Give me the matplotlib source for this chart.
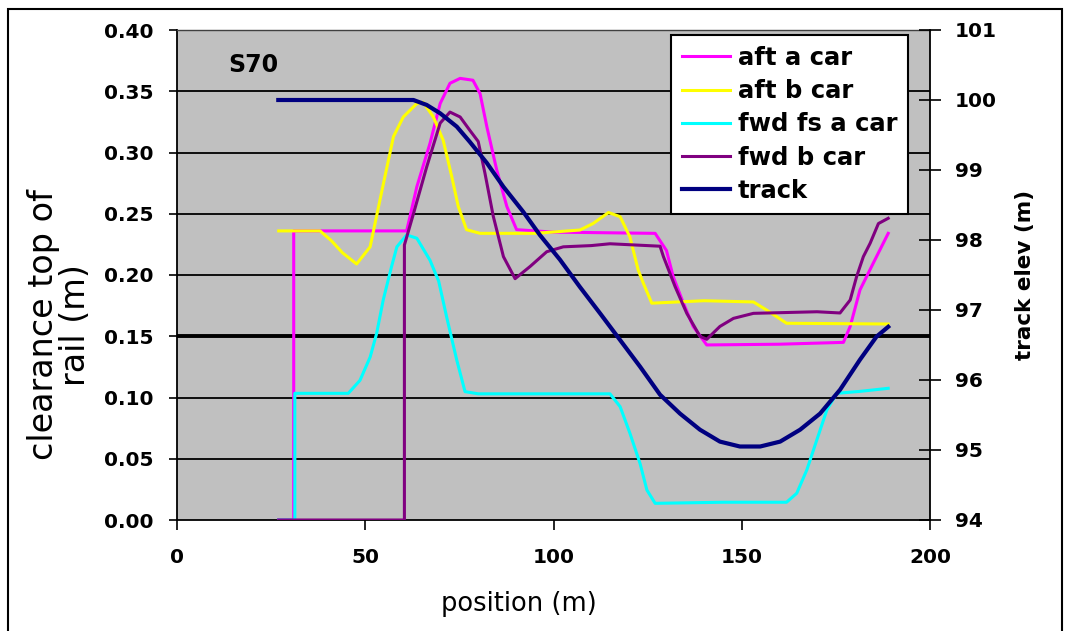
import matplotlib
matplotlib.use("Agg")
import matplotlib.pyplot as plt
from matplotlib.patches import Rectangle

# clearance top of rail (m) against position (m), S70
aft_a_x = [27, 31, 31, 61, 63.7, 67.2, 69.9, 72.5, 75.2, 78.6, 80.5, 82.3, 84.9, 87.6, 90.2, 100,
           127, 130, 131.8, 134.5, 137.1, 140.7, 160, 177, 178.8, 181.4, 184.9, 188.9]
aft_a_y = [0.0, 0.0, 0.236, 0.236, 0.272, 0.3075, 0.340, 0.3565, 0.3605, 0.359, 0.348, 0.321, 0.286,
           0.256, 0.237, 0.235, 0.234, 0.220, 0.1986, 0.177, 0.158, 0.1429, 0.1435, 0.145, 0.158,
           0.1878, 0.2095, 0.234]

aft_b_x = [27, 38, 41, 44, 47.7, 51.3, 53, 55.2, 57.5, 60.1, 63.7, 65.4, 68.1, 70.7, 73, 74.7, 76.9,
           80.5, 95, 107, 110.5, 114.6, 117.7, 120.3, 122.5, 123.9, 126.1, 140, 153.1, 156.6, 161.9,
           188.9]
aft_b_y = [0.236, 0.236, 0.228, 0.218, 0.209, 0.223, 0.248, 0.280, 0.313, 0.329, 0.340, 0.341, 0.329,
           0.310, 0.280, 0.256, 0.237, 0.234, 0.234, 0.2367, 0.242, 0.251, 0.2476, 0.231, 0.204,
           0.193, 0.177, 0.179, 0.178, 0.1714, 0.1606, 0.160]

fwd_fs_a_x = [27, 31.3, 31.3, 45.5, 48.6, 51.3, 53, 54.8, 57, 58.4, 61, 63.7, 67.2, 69.5, 71.6, 74.3,
              76.5, 80, 115, 117.7, 120.3, 123, 124.8, 127, 145, 161.9, 164.6, 167.3, 169.9, 172.6,
              175.2, 181.4, 188.9]
fwd_fs_a_y = [0.0, 0.0, 0.1034, 0.1034, 0.114, 0.133, 0.152, 0.180, 0.207, 0.223, 0.2327, 0.230,
              0.212, 0.195, 0.166, 0.1306, 0.1048, 0.103, 0.103, 0.0925, 0.0708, 0.046, 0.0245,
              0.0136, 0.0145, 0.0145, 0.0218, 0.041, 0.065, 0.0898, 0.1034, 0.105, 0.1075]

fwd_b_x = [27, 60.4, 60.4, 62.8, 66.3, 69.9, 72.5, 75.2, 77.8, 80, 81.8, 84, 86.7, 89.8, 93.8, 98.2,
           102.6, 110, 115, 128.3, 129.2, 132.3, 135.4, 138.9, 140.7, 144.2, 147.8, 153.1, 170,
           176.1, 178.8, 180.5, 182.3, 184.1, 186.3, 188.9]
fwd_b_y = [0.0, 0.0, 0.2245, 0.250, 0.288, 0.324, 0.333, 0.329, 0.318, 0.309, 0.283, 0.248, 0.215,
           0.197, 0.207, 0.219, 0.223, 0.224, 0.2255, 0.2235, 0.215, 0.1905, 0.1687, 0.150, 0.1475,
           0.158, 0.1646, 0.1687, 0.170, 0.169, 0.1796, 0.1986, 0.215, 0.2259, 0.242, 0.2463]

# track elevation (m), right axis
track_x = [26.9, 62.8, 66.3, 69.9, 74.3, 77.8, 82.3, 86.7, 92, 96.4, 101.7, 107, 112.4, 117.7, 123,
           128.3, 133.6, 138.9, 144.2, 149.5, 154.9, 160.2, 165.5, 170.8, 176.1, 181.4, 185.8, 188.9]
track_y = [100, 100, 99.93, 99.81, 99.62, 99.40, 99.10, 98.76, 98.40, 98.07, 97.72, 97.33, 96.95,
           96.57, 96.19, 95.79, 95.52, 95.29, 95.12, 95.05, 95.05, 95.12, 95.29, 95.52, 95.86, 96.29,
           96.62, 96.76]

clear_ticks = [0.0, 0.05, 0.10, 0.15, 0.20, 0.25, 0.30, 0.35, 0.40]
elev_ticks = [94, 95, 96, 97, 98, 99, 100, 101]
pos_ticks = [0, 50, 100, 150, 200]
limit_line = 0.15

plt.rcParams['font.family'] = 'DejaVu Sans'

fig = plt.figure(figsize=(10.68, 6.31), dpi=100)
ax = fig.add_axes([177/1068, 111/631, 753/1068, 490/631])
ax.set_facecolor('#C0C0C0')

for v in clear_ticks[1:-1]:
    ax.axhline(v, color='black', lw=1.3, zorder=1)
ax.axhline(limit_line, color='black', lw=2.8, zorder=1)

lw = 2.2
l1, = ax.plot(aft_a_x, aft_a_y, color='#FF00FF', lw=lw, label='aft a car', zorder=3)
l2, = ax.plot(aft_b_x, aft_b_y, color='#FFFF00', lw=lw, label='aft b car', zorder=3)
l3, = ax.plot(fwd_fs_a_x, fwd_fs_a_y, color='#00FFFF', lw=lw, label='fwd fs a car', zorder=3)
l4, = ax.plot(fwd_b_x, fwd_b_y, color='#800080', lw=lw, label='fwd b car', zorder=3)

ax.set_xlim(0, 200)
ax.set_ylim(0, 0.40)
ax.set_xticks(pos_ticks)
ax.set_yticks(clear_ticks)
ax.set_yticklabels(['%.2f' % v for v in clear_ticks])
ax.tick_params(axis='y', direction='out', length=6, width=1.2, pad=11, labelsize=14.5)
ax.tick_params(axis='x', direction='out', length=7, width=1.2, pad=13, labelsize=14.5)
for lab in ax.get_xticklabels() + ax.get_yticklabels():
    lab.set_fontweight('bold')
ax.spines['left'].set_linewidth(1.3)
ax.spines['bottom'].set_linewidth(1.3)
ax.spines['top'].set_color('#404040')
ax.spines['top'].set_linewidth(1.0)
ax.spines['right'].set_visible(False)

ax.text(13.5, 0.366, 'S70', fontsize=17, fontweight='bold')

ax2 = ax.twinx()
l5, = ax2.plot(track_x, track_y, color='#000080', lw=3.0, label='track', zorder=4)
ax2.set_ylim(94, 101)
ax2.set_yticks(elev_ticks)
ax2.tick_params(axis='y', direction='inout', length=16, width=1.2, pad=10, labelsize=14.5)
for lab in ax2.get_yticklabels():
    lab.set_fontweight('bold')
ax2.spines['right'].set_linewidth(1.3)
for s in ['left', 'top', 'bottom']:
    ax2.spines[s].set_visible(False)

leg = ax2.legend(handles=[l1, l2, l3, l4, l5], loc='upper right', bbox_to_anchor=(0.971, 0.990),
                 borderaxespad=0, fancybox=False, framealpha=1, edgecolor='black',
                 prop={'size': 17.5, 'weight': 'bold'}, handlelength=2.0, handletextpad=0.3,
                 labelspacing=0.38, borderpad=0.45)
leg.get_frame().set_linewidth(1.5)

fig.text(0.056, 0.485, 'clearance top of\nrail (m)', rotation=90, ha='center', va='center',
         multialignment='center', fontsize=24, linespacing=0.95)
fig.text(0.486, 0.043, 'position (m)', ha='center', va='center', fontsize=18.5)
fig.text(0.960, 0.564, 'track elev (m)', rotation=90, ha='center', va='center',
         fontsize=15.5, fontweight='bold')

fig.add_artist(Rectangle((8/1068, -0.05), 1054/1068, 1.05 - 9/631, transform=fig.transFigure,
                         fill=False, edgecolor='black', lw=1.5))

fig.savefig('out.png', dpi=100)
